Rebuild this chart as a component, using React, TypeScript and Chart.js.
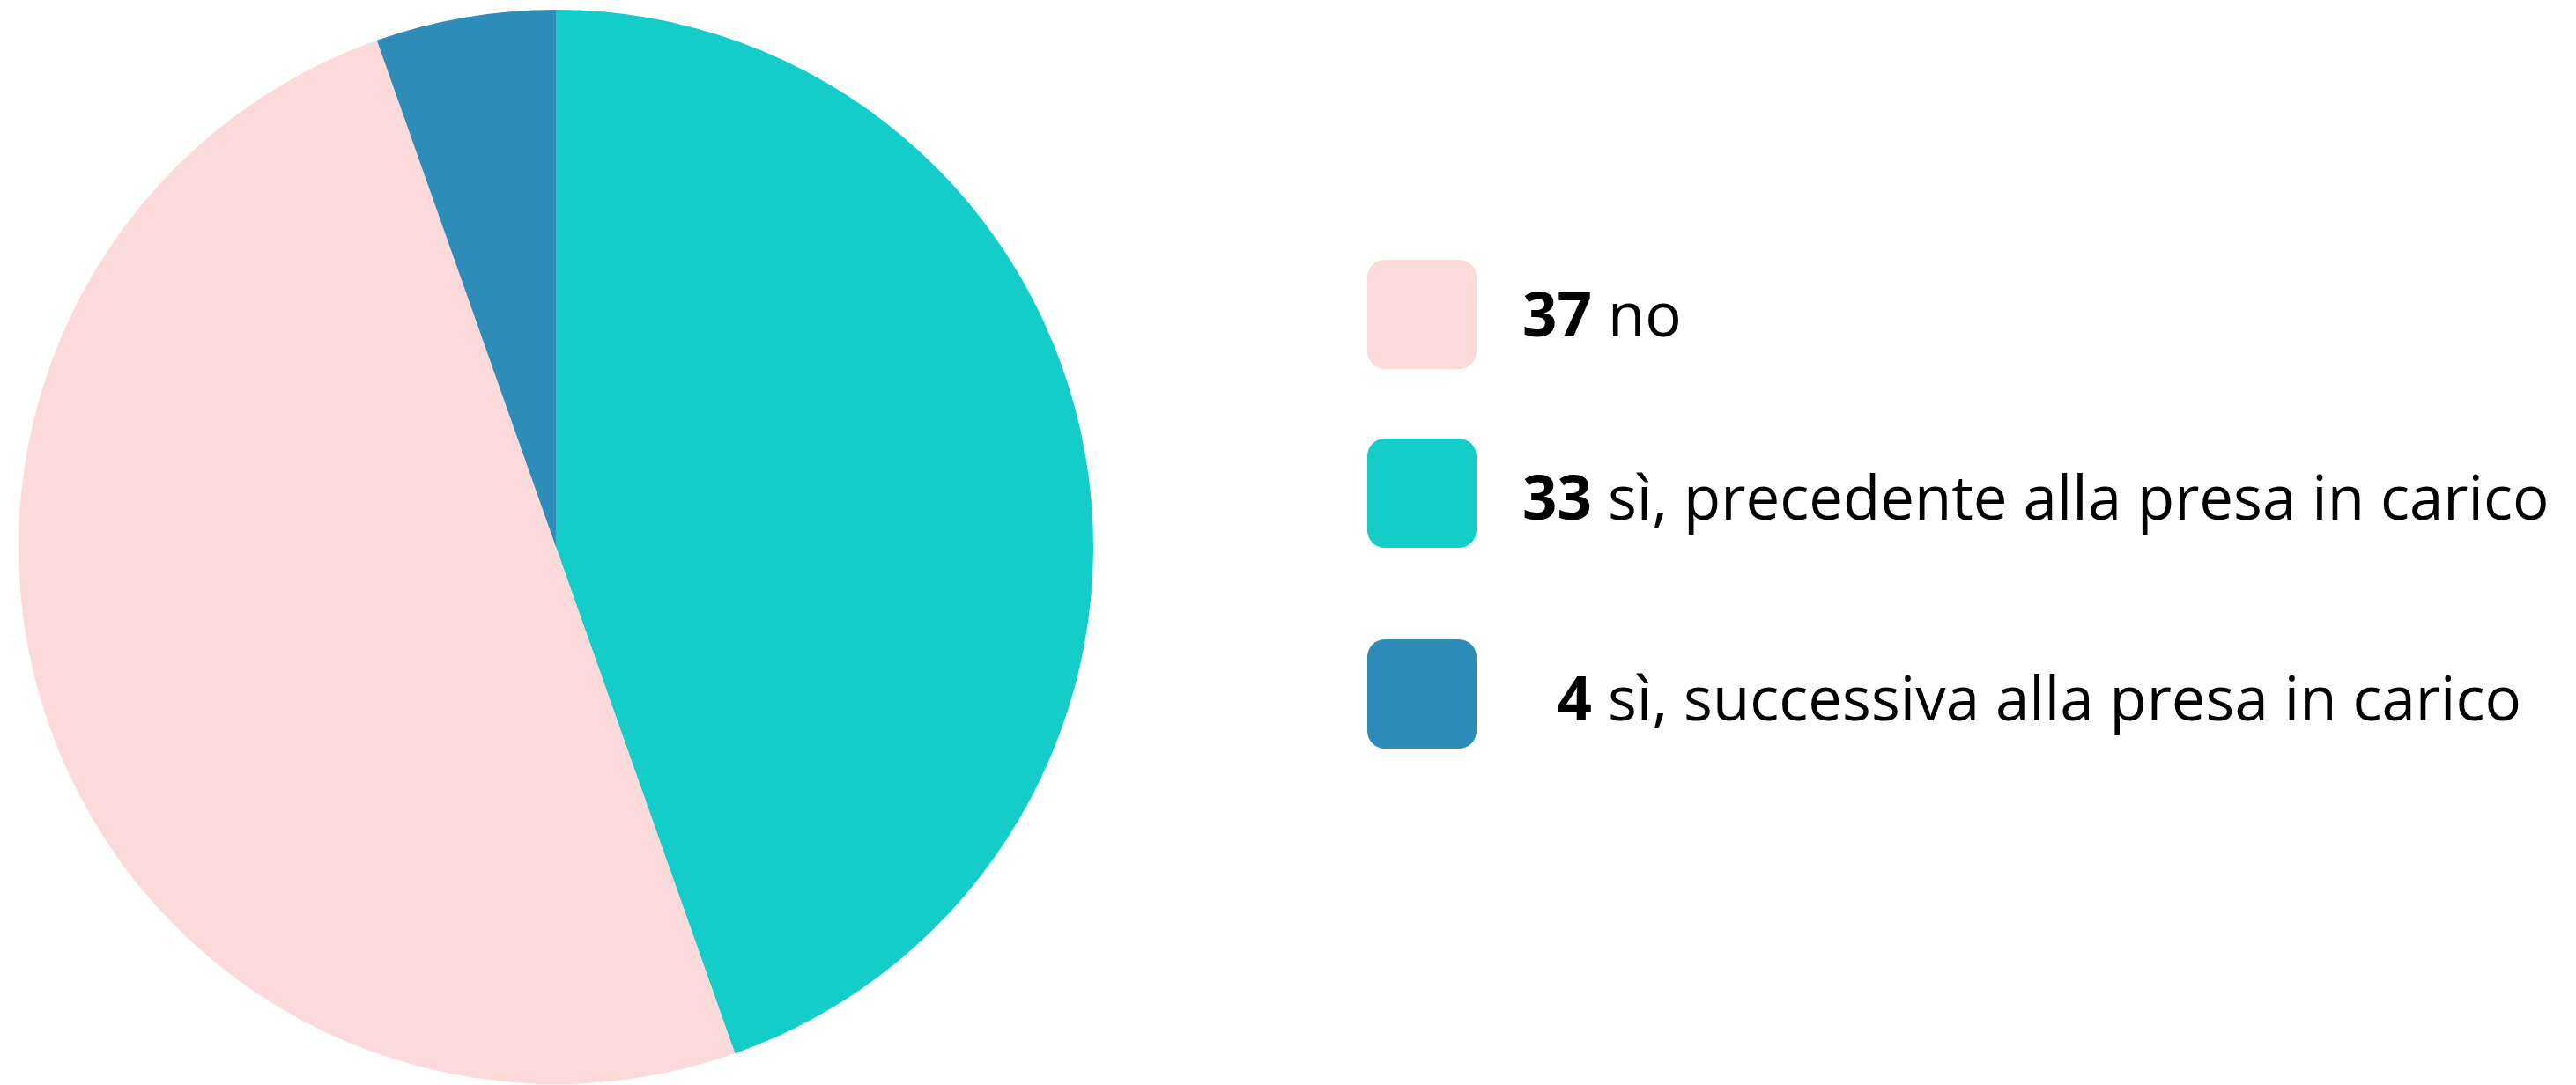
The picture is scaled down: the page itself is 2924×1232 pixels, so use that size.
import React, { useEffect, useRef } from "react";
import { Chart, registerables } from "chart.js";

Chart.register(...registerables);

// Legend order (as listed on the right)
const labels: string[] = [
  "no",
  "sì, precedente alla presa in carico",
  "sì, successiva alla presa in carico",
];
const values: number[] = [37, 33, 4];
const colors: string[] = ["#fddada", "#14cdc8", "#2e8cb8"];
// Order of slices clockwise from 12 o'clock
const pieOrder: number[] = [1, 0, 2];

export default function App() {
  const canvasRef = useRef<HTMLCanvasElement | null>(null);

  useEffect(() => {
    if (!canvasRef.current) return;
    const chart = new Chart(canvasRef.current, {
      type: "pie",
      data: {
        labels: pieOrder.map((i) => labels[i]),
        datasets: [
          {
            data: pieOrder.map((i) => values[i]),
            backgroundColor: pieOrder.map((i) => colors[i]),
            borderWidth: 0,
            hoverOffset: 0,
          },
        ],
      },
      options: {
        responsive: false,
        animation: false,
        devicePixelRatio: 1,
        radius: 610,
        layout: { padding: 0 },
        plugins: {
          legend: { display: false },
          tooltip: { enabled: false },
        },
      },
    });
    return () => chart.destroy();
  }, []);

  const rowBoxTops = [295, 498, 726];
  const rowTextTops = [308, 516, 744];

  return (
    <div
      style={{
        position: "fixed",
        left: 0,
        top: 0,
        width: 2924,
        height: 1232,
        background: "#ffffff",
        overflow: "hidden",
        fontFamily: "'Open Sans', sans-serif",
        color: "#000",
      }}
    >
      <canvas
        ref={canvasRef}
        width={1224}
        height={1224}
        style={{ position: "absolute", left: 19, top: 9, width: 1224, height: 1224 }}
      />
      {labels.map((lab, i) => (
        <React.Fragment key={i}>
          <div
            style={{
              position: "absolute",
              left: 1552,
              top: rowBoxTops[i],
              width: 124,
              height: 124,
              borderRadius: 20,
              background: colors[i],
            }}
          />
          <div
            style={{
              position: "absolute",
              left: 1717,
              top: rowTextTops[i],
              fontSize: 69,
              lineHeight: "normal",
              whiteSpace: "pre",
            }}
          >
            <span
              style={{
                display: "inline-block",
                width: 90,
                textAlign: "right",
                fontWeight: 700,
              }}
            >
              {values[i]}
            </span>
            {" " + lab}
          </div>
        </React.Fragment>
      ))}
    </div>
  );
}
